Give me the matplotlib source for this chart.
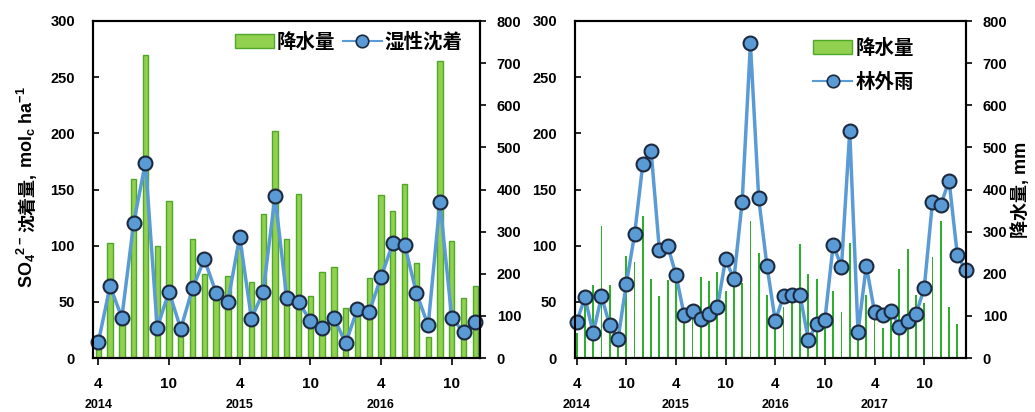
import matplotlib
matplotlib.use("Agg")
import matplotlib.pyplot as plt
from matplotlib.patches import Patch
from matplotlib.lines import Line2D

plt.rcParams['font.family'] = ['Liberation Sans', 'Noto Sans CJK JP']
plt.rcParams['font.weight'] = 'bold'
plt.rcParams['mathtext.fontset'] = 'custom'
plt.rcParams['mathtext.rm'] = 'Liberation Sans:bold'
plt.rcParams['mathtext.it'] = 'Liberation Sans:bold'
plt.rcParams['mathtext.bf'] = 'Liberation Sans:bold'

# 左: 2014/4 - 2016/12 月別
wet_so4 = [14, 64, 36, 120, 174, 27, 59, 26, 62, 88, 58, 50, 108, 35, 59, 144, 53,
           50, 33, 27, 36, 13, 44, 41, 72, 102, 101, 58, 29, 139, 36, 23, 32]
precip_left = [35, 272, 90, 424, 720, 265, 373, 60, 283, 200, 140, 195, 262, 180, 343, 539, 282,
               389, 148, 205, 215, 119, 110, 191, 387, 350, 412, 225, 50, 705, 278, 142, 170]

# 右: 2014/4 - 2018/3 月別
open_rain = [32, 54, 22, 55, 29, 17, 66, 110, 173, 184, 96, 100, 74, 38, 42, 35,
             39, 45, 88, 70, 139, 280, 142, 82, 33, 55, 56, 56, 16, 30, 34, 101,
             81, 202, 23, 82, 41, 38, 42, 28, 33, 39, 62, 139, 136, 158, 92, 78]
precip_right = [60, 130, 173, 313, 173, 50, 242, 229, 338, 187, 146, 185, 200, 95, 120, 193,
                182, 203, 158, 190, 178, 325, 249, 150, 80, 120, 140, 271, 200, 187, 105, 160,
                110, 272, 50, 150, 110, 72, 115, 211, 259, 150, 130, 239, 325, 120, 80, 60]

month_labels = ['4', '10']
years_left = ['2014', '2015', '2016']
years_right = ['2014', '2015', '2016', '2017']

line_c = '#5b9bd5'
edge_c = '#1c2a40'
bar_fill = '#92d050'
bar_edge = '#4fa82a'
thin_bar = '#2db12d'

W, H = 1035, 412
fig = plt.figure(figsize=(W / 100, H / 100), dpi=100)
axL = fig.add_axes([93 / W, 54 / H, 387 / W, 337 / H])
axR = fig.add_axes([575 / W, 54 / H, 391 / W, 337 / H])


def setup(ax, ax2, n, years, xlim):
    ax.set_zorder(ax2.get_zorder() + 1)
    ax.patch.set_visible(False)
    ax.set_ylim(0, 300)
    ax.set_yticks(range(0, 301, 50))
    ax2.set_ylim(0, 800)
    ax2.set_yticks(range(0, 801, 100))
    ax.set_xlim(*xlim)
    ticks = list(range(0, n, 6))
    ax.set_xticks(ticks)
    ax.set_xticklabels([month_labels[k % 2] for k in range(len(ticks))])
    ax.tick_params(axis='y', direction='in', length=4, width=1.2, pad=13, labelsize=10.5)
    ax.tick_params(axis='x', direction='out', length=5, width=1.2, pad=9, labelsize=11)
    ax2.tick_params(axis='y', direction='out', length=4, width=1.2, pad=8, labelsize=10.5)
    for a in (ax, ax2):
        for s in a.spines.values():
            s.set_linewidth(1.5)
    for k, yr in enumerate(years):
        ax.text(12 * k, -0.14, yr, transform=ax.get_xaxis_transform(),
                ha='center', va='center', fontsize=9, fontweight='bold')


def handles(name):
    return [Patch(facecolor=bar_fill, edgecolor=bar_edge, label='降水量'),
            Line2D([], [], color=line_c, lw=1.5, marker='o', ms=9, mfc=line_c, mec=edge_c,
                   mew=1.2, label=name)]


def vlabel(x_base, y_center, parts, size):
    # 縦書きラベルを部品ごとに並べる (mathtext と和文を混在させるため)
    r = fig.canvas.get_renderer()
    items = []
    for s, gap in parts:
        t = fig.text(0, 0, s, rotation=90, rotation_mode='anchor', ha='left',
                     va='baseline', fontsize=size, fontweight='bold')
        items.append((t, gap, t.get_window_extent(r).height))
    total = sum(g + L for _, g, L in items)
    y = y_center - total / 2
    for t, g, L in items:
        y += g
        t.set_position((x_base / W, y / H))
        y += L


# 左パネル
axL2 = axL.twinx()
xl = range(len(wet_so4))
axL2.bar(xl, precip_left, width=0.45, color=bar_fill, edgecolor=bar_edge, linewidth=1.0)
axL.plot(xl, wet_so4, color=line_c, lw=2.5, marker='o', ms=10,
         mfc=line_c, mec=edge_c, mew=1.5, clip_on=False)
setup(axL, axL2, len(wet_so4), years_left, (-0.45, 32.4))
axL.legend(handles=handles('湿性沈着'), loc='upper right', bbox_to_anchor=(0.985, 1.0), ncol=2,
           frameon=False, prop={'size': 14, 'weight': 'bold'}, handlelength=2.0,
           handletextpad=0.15, columnspacing=0.4, borderaxespad=0.2)
vlabel(33, 225, [(r'SO$_4$$^{2-}$', 0), ('沈着量,', 4), (r'mol$_c$ ha$^{-1}$', 5)], 13)

# 右パネル
axR2 = axR.twinx()
xr = range(len(open_rain))
axR2.bar(xr, precip_right, width=0.22, color=thin_bar, edgecolor='none')
axR.plot(xr, open_rain, color=line_c, lw=2.5, marker='o', ms=10,
         mfc=line_c, mec=edge_c, mew=1.5, clip_on=False)
setup(axR, axR2, len(open_rain), years_right, (-0.2, 47.05))
axR2.set_ylabel('降水量, mm', fontsize=13, fontweight='bold')
axR2.yaxis.set_label_coords(1.115, 0.5)
axR.legend(handles=handles('林外雨'), loc='upper left', bbox_to_anchor=(0.565, 1.0),
           frameon=False, prop={'size': 14, 'weight': 'bold'}, handlelength=2.0,
           handletextpad=0.15, labelspacing=0.8)

fig.savefig('out.png', dpi=100)
